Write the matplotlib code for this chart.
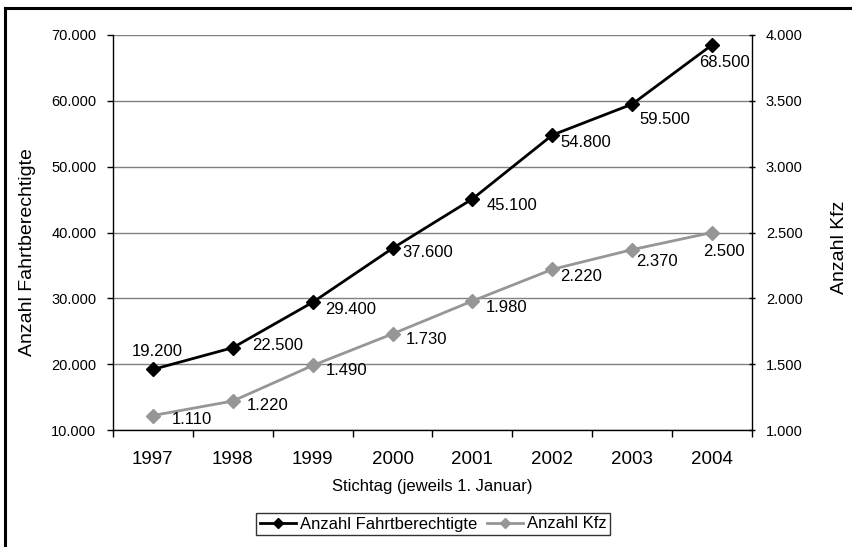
import matplotlib
matplotlib.use("Agg")
import matplotlib.pyplot as plt
from matplotlib.lines import Line2D
from matplotlib.ticker import FuncFormatter, FixedLocator, MultipleLocator

plt.rcParams['font.family'] = ['Liberation Sans', 'DejaVu Sans']

# Data
years = ['1997', '1998', '1999', '2000', '2001', '2002', '2003', '2004']
fahrtberechtigte = [19200, 22500, 29400, 37600, 45100, 54800, 59500, 68500]
kfz = [1110, 1220, 1490, 1730, 1980, 2220, 2370, 2500]

# Label placement (pixels: dx to the text's left edge, dy downward)
off_fb = [(-21, -18), (19, -2), (12, 7), (10, 4), (14, 7), (8, 7), (7, 15), (-13, 18)]
off_kfz = [(19, 4), (14, 4), (13, 5), (13, 6), (13, 7), (8, 7), (4, 12), (-9, 19)]

BLACK = '#000000'
GRAY = '#969696'


def de_fmt(v, pos=None):
    return f"{int(round(v)):,}".replace(',', '.')


fig = plt.figure(figsize=(8.53, 5.47), dpi=100)
ax = fig.add_axes([113 / 853, 1 - 430 / 547, (752 - 113) / 853, (430 - 35) / 547])
ax2 = ax.twinx()

x = list(range(len(years)))

ax.set_xlim(-0.5, len(years) - 0.5)
ax.set_ylim(10000, 70000)
ax2.set_ylim(1000, 4000)

# gridlines from the left axis
ax.yaxis.set_major_locator(MultipleLocator(10000))
ax.yaxis.set_major_formatter(FuncFormatter(de_fmt))
ax.grid(axis='y', color='#808080', linewidth=1.0)
ax.set_axisbelow(True)
ax2.yaxis.set_major_locator(MultipleLocator(500))
ax2.yaxis.set_major_formatter(FuncFormatter(de_fmt))

# category axis: ticks between categories, labels centred
ax.xaxis.set_major_locator(FixedLocator([i - 0.5 for i in range(len(years) + 1)]))
ax.xaxis.set_major_formatter(FuncFormatter(lambda v, p: ''))
ax.xaxis.set_minor_locator(FixedLocator(x))
ax.set_xticklabels(years, minor=True)
ax.tick_params(axis='x', which='major', length=5, width=1, direction='out', color='#000000')
ax.tick_params(axis='x', which='minor', length=0, labelsize=13.5, pad=15)
ax.tick_params(axis='y', length=4, width=1, labelsize=10.5, pad=8)
ax2.tick_params(axis='y', length=4, width=1, labelsize=10.5, pad=8, direction='inout')

for s in ['left', 'bottom']:
    ax.spines[s].set_color('black')
    ax.spines[s].set_linewidth(1.0)
ax.spines['top'].set_visible(False)
ax.spines['right'].set_visible(False)
ax2.spines['top'].set_visible(False)
ax2.spines['left'].set_visible(False)
ax2.spines['bottom'].set_visible(False)
ax2.spines['right'].set_color('black')
ax2.spines['right'].set_linewidth(1.0)

ax2.set_zorder(ax.get_zorder() + 1)
ax2.patch.set_visible(False)
l2, = ax2.plot(x, kfz, color=GRAY, linewidth=2, marker='D', markersize=7,
               markerfacecolor=GRAY, markeredgecolor=GRAY, label='Anzahl Kfz', clip_on=False)

# black series on the left scale, in a transparent overlay above the gray one
ax3 = ax.twinx()
ax3.set_ylim(10000, 70000)
ax3.axis('off')
ax3.set_zorder(ax2.get_zorder() + 1)
l1, = ax3.plot(x, fahrtberechtigte, color=BLACK, linewidth=2, marker='D', markersize=7,
               markerfacecolor=BLACK, markeredgecolor=BLACK, label='Anzahl Fahrtberechtigte',
               clip_on=False)

for xi, v, (dx, dy) in zip(x, fahrtberechtigte, off_fb):
    ax3.annotate(de_fmt(v), (xi, v), xytext=(dx, -dy), textcoords='offset pixels',
                 ha='left', va='center', fontsize=12, color='black', annotation_clip=False)
for xi, v, (dx, dy) in zip(x, kfz, off_kfz):
    ax2.annotate(de_fmt(v), (xi, v), xytext=(dx, -dy), textcoords='offset pixels',
                 ha='left', va='center', fontsize=12, color='black', annotation_clip=False)

ax.set_xlabel('Stichtag (jeweils 1. Januar)', fontsize=12, labelpad=8)
fig.text(28 / 853, 1 - 252 / 547, 'Anzahl Fahrtberechtigte', rotation=90,
         ha='center', va='center', fontsize=14)
fig.text(840 / 853, 1 - 247 / 547, 'Anzahl Kfz', rotation=90,
         ha='center', va='center', fontsize=14)

# legend handles with slightly smaller markers
h1 = Line2D([], [], color=BLACK, linewidth=2, marker='D', markersize=5.5,
            markerfacecolor=BLACK, markeredgecolor=BLACK)
h2 = Line2D([], [], color=GRAY, linewidth=2, marker='D', markersize=5.5,
            markerfacecolor=GRAY, markeredgecolor=GRAY)
leg = fig.legend(handles=[h1, h2], labels=[l1.get_label(), l2.get_label()], loc='center',
                 bbox_to_anchor=(433 / 853, 1 - 524 / 547),
                 ncol=2, frameon=True, fancybox=False, fontsize=12, handlelength=2.2,
                 handletextpad=0.2, columnspacing=0.6, borderpad=0.2, borderaxespad=0)
leg.get_frame().set_edgecolor('black')
leg.get_frame().set_linewidth(1.0)

# outer frame (left and top edges)
fig.add_artist(Line2D([5.5 / 853, 5.5 / 853], [0, 1 - 7.5 / 547], color='black',
                      linewidth=2.2, transform=fig.transFigure))
fig.add_artist(Line2D([5.5 / 853, 1], [1 - 7.5 / 547, 1 - 7.5 / 547], color='black',
                      linewidth=2.2, transform=fig.transFigure))

fig.savefig('out.png', dpi=100)
